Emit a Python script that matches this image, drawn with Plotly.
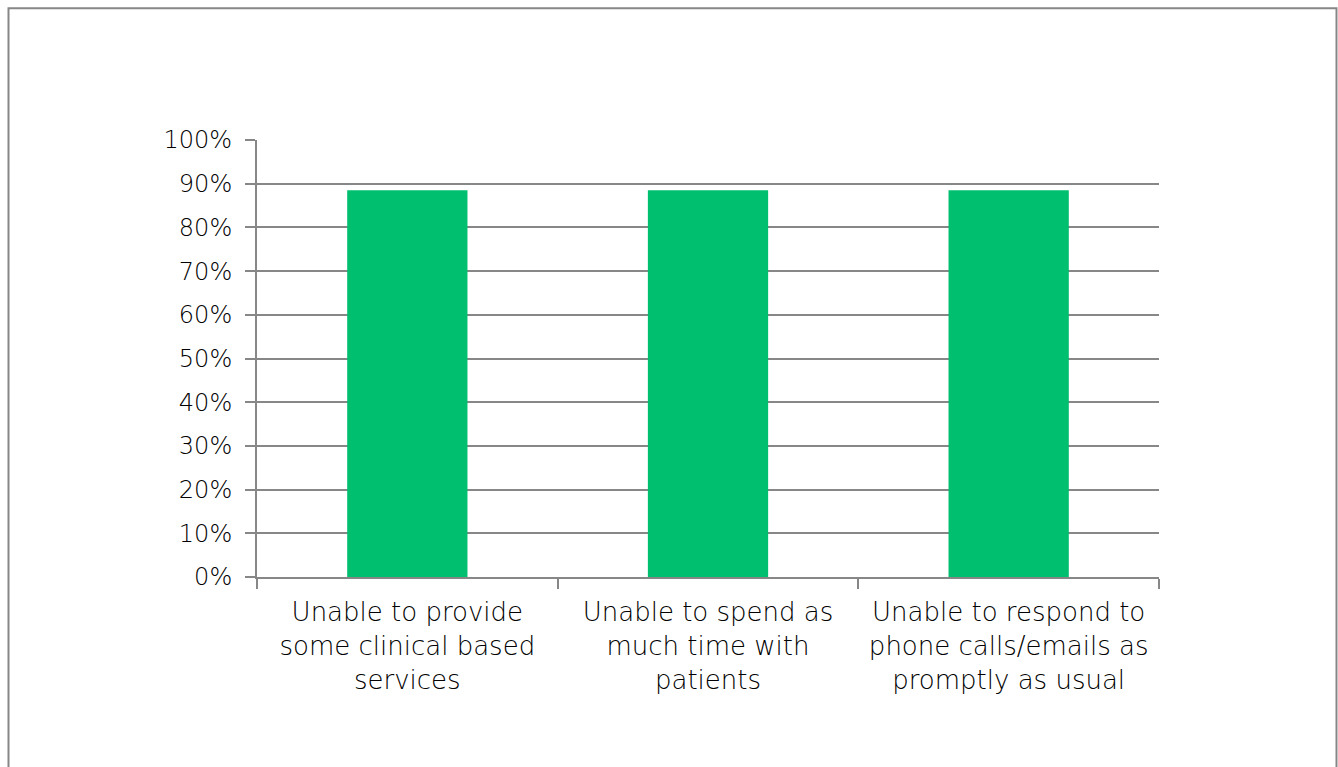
import plotly.graph_objects as go

# Survey responses: share of respondents reporting each impact
categories = [
    "Unable to provide<br>some clinical based<br>services",
    "Unable to spend as<br>much time with<br>patients",
    "Unable to respond to<br>phone calls/emails as<br>promptly as usual",
]
shares = [0.885, 0.885, 0.885]

W, H = 1338, 767
L, R, T, B = 257, 1159, 139.5, 577  # plot area in pixels
GRAY = "#878787"
FONT = "Century Gothic, DejaVu Sans, sans-serif"

fig = go.Figure(
    go.Bar(x=categories, y=shares, marker=dict(color="#00BF6F", line=dict(width=0)))
)

def px_x(p):
    return (p - L) / (R - L)

def px_y(p):
    return (B - p) / (B - T)

# Outer frame around the chart (open at the bottom edge)
fig.add_shape(
    type="path",
    xref="paper", yref="paper",
    path=f"M {px_x(8.5)} {px_y(790)} L {px_x(8.5)} {px_y(7.5)} L {px_x(1336.5)} {px_y(7.5)} L {px_x(1336.5)} {px_y(790)}",
    line=dict(color=GRAY, width=2),
)

fig.update_layout(
    width=W, height=H,
    margin=dict(l=L, r=W - R, t=T, b=H - B),
    paper_bgcolor="white", plot_bgcolor="white",
    bargap=0.6,
    showlegend=False,
    font=dict(family=FONT, size=24, color="#000000", weight=200),
)
fig.update_yaxes(
    range=[0, 1], dtick=0.1, tickformat=".0%",
    showgrid=True, gridcolor=GRAY, gridwidth=2,
    showline=True, linecolor=GRAY, linewidth=2,
    ticks="outside", ticklen=10, tickwidth=2, tickcolor=GRAY,
    ticklabelstandoff=8, zeroline=False,
    tickfont=dict(size=24, weight=200, color="#000000"),
)
fig.update_xaxes(
    showline=True, linecolor=GRAY, linewidth=2,
    ticks="outside", ticklen=10, tickwidth=2, tickcolor=GRAY,
    tickson="boundaries", showgrid=False,
    ticklabelstandoff=11,
    tickfont=dict(size=26, weight=200, color="#000000"),
)

fig.write_html("out.html")
